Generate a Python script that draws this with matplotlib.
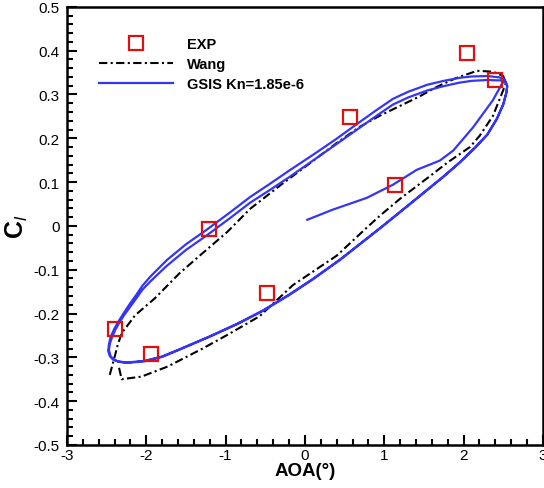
"""Cl vs AOA hysteresis loop: EXP / Wang / GSIS"""

import matplotlib
matplotlib.use("Agg")
import matplotlib.pyplot as plt
from matplotlib.ticker import MultipleLocator, FuncFormatter

plt.rcParams["font.family"] = ["Liberation Sans", "DejaVu Sans"]
plt.rcParams["axes.unicode_minus"] = False
plt.rcParams["mathtext.fontset"] = "custom"
plt.rcParams["mathtext.bf"] = "Liberation Sans:bold"
plt.rcParams["mathtext.it"] = "Liberation Sans:italic"
plt.rcParams["mathtext.rm"] = "Liberation Sans"

# ── data ────────────────────────────────────────────────────
exp_aoa = [2.04, 2.40, 0.57, 1.13, -1.21, -0.48, -2.40, -1.94]
exp_cl = [0.395, 0.333, 0.249, 0.094, -0.006, -0.153, -0.236, -0.292]

wang_aoa = [-2.46, -2.40, -2.36, -2.31, -2.14, -1.89, -1.58, -1.32, -0.98,
            -0.69, -0.30, 0.10, 0.40, 0.69, 0.95, 1.20, 1.45, 1.66, 1.90,
            2.17, 2.37, 2.50, 2.53, 2.50, 2.37, 2.20, 2.08, 1.80, 1.55,
            1.20, 0.95, 0.78, 0.40, -0.15, -0.57, -0.95, -1.29, -1.73,
            -2.06, -2.31, -2.35]
wang_cl = [-0.340, -0.300, -0.272, -0.245, -0.204, -0.165, -0.108, -0.067,
           -0.014, 0.039, 0.094, 0.148, 0.189, 0.226, 0.252, 0.274, 0.296,
           0.317, 0.337, 0.354, 0.352, 0.342, 0.325, 0.310, 0.251, 0.205,
           0.180, 0.145, 0.110, 0.062, 0.024, -0.004, -0.068, -0.135, -0.206,
           -0.246, -0.280, -0.321, -0.344, -0.350, -0.318]

gsis_aoa = [
    # start-up transient
    0.03, 0.35, 0.78, 1.11, 1.41, 1.70, 1.87, 2.12, 2.37, 2.48,
    # cycle 1
    2.52, 2.45, 2.30, 2.10, 1.95, 1.75, 1.54, 1.30, 1.11, 0.90, 0.69, 0.40,
    0.10, -0.20, -0.45, -0.69, -0.95, -1.24, -1.50, -1.74, -1.95, -2.05,
    -2.12, -2.20, -2.28, -2.35, -2.40, -2.45, -2.47, -2.48, -2.46, -2.42,
    -2.36, -2.28, -2.20, -2.02, -1.80, -1.60, -1.20, -0.85, -0.53, -0.20,
    0.10, 0.44, 0.70, 0.98, 1.30, 1.55, 1.74, 1.95, 2.15, 2.30, 2.42, 2.50,
    2.54, 2.55, 2.52,
    # cycle 2
    2.45, 2.30, 2.10, 1.95, 1.75, 1.54, 1.30, 1.11, 0.90, 0.69, 0.40, 0.10,
    -0.20, -0.45, -0.69, -0.95, -1.24, -1.50, -1.74, -1.95, -2.05, -2.12,
    -2.20, -2.28, -2.34, -2.39, -2.43, -2.46, -2.47, -2.45, -2.41, -2.35,
    -2.28, -2.20, -2.02, -1.80, -1.60, -1.20, -0.85, -0.53, -0.20, 0.10,
    0.44, 0.70, 0.98, 1.30, 1.55, 1.74, 1.95, 2.15, 2.30, 2.42, 2.50, 2.54,
    2.55, 2.52,
]
gsis_cl = [
    0.014, 0.037, 0.064, 0.094, 0.128, 0.149, 0.172, 0.225, 0.287, 0.323,
    0.334, 0.339, 0.342, 0.341, 0.338, 0.331, 0.322, 0.306, 0.290, 0.264,
    0.237, 0.199, 0.162, 0.126, 0.095, 0.066, 0.030, -0.009, -0.042, -0.078,
    -0.116, -0.137, -0.156, -0.176, -0.198, -0.218, -0.234, -0.254, -0.270,
    -0.285, -0.297, -0.305, -0.309, -0.311, -0.311, -0.308, -0.298, -0.283,
    -0.252, -0.223, -0.193, -0.157, -0.121, -0.077, -0.040, 0.000, 0.047,
    0.084, 0.112, 0.145, 0.180, 0.209, 0.245, 0.278, 0.305, 0.320, 0.333,
    0.332, 0.333, 0.331, 0.327, 0.319, 0.309, 0.293, 0.277, 0.251, 0.224,
    0.187, 0.149, 0.111, 0.081, 0.053, 0.017, -0.022, -0.055, -0.091,
    -0.127, -0.146, -0.164, -0.184, -0.204, -0.221, -0.237, -0.254, -0.269,
    -0.284, -0.297, -0.305, -0.310, -0.312, -0.312, -0.309, -0.299, -0.284,
    -0.253, -0.224, -0.194, -0.158, -0.122, -0.078, -0.041, -0.001, 0.046,
    0.083, 0.111, 0.144, 0.179, 0.208, 0.244, 0.277, 0.304, 0.319, 0.331,
]

BLUE = "#3535f5"
RED = "#dd1111"


def fmt_tick(v, pos):
    if abs(v) < 1e-9:
        return "0"
    return f"{v:g}"


fig = plt.figure(figsize=(5.44, 4.89), dpi=100)
ax = fig.add_axes([0.123, 0.088, 0.875, 0.896])

ax.plot(exp_aoa, exp_cl, ls="none", marker="s", ms=9.5, mfc="none",
        mec=RED, mew=1.6, label="EXP", zorder=4)
ax.plot(wang_aoa, wang_cl, color="black", lw=1.5,
        ls=(0, (4, 1.6, 1, 1.6)), label="Wang", zorder=2)
ax.plot(gsis_aoa, gsis_cl, color=BLUE, lw=1.6, label="GSIS Kn=1.85e-6",
        zorder=3)

ax.set_xlim(-3, 3)
ax.set_ylim(-0.5, 0.5)
ax.xaxis.set_major_locator(MultipleLocator(1))
ax.xaxis.set_minor_locator(MultipleLocator(0.2))
ax.yaxis.set_major_locator(MultipleLocator(0.1))
ax.yaxis.set_minor_locator(MultipleLocator(0.02))
ax.xaxis.set_major_formatter(FuncFormatter(fmt_tick))
ax.yaxis.set_major_formatter(FuncFormatter(fmt_tick))
ax.tick_params(which="both", direction="in", top=False, right=False,
               labelsize=11, width=1.5)
ax.tick_params(which="major", length=7)
ax.tick_params(which="minor", length=4)
ax.tick_params(axis="x", pad=2)
ax.tick_params(axis="y", pad=5)
for s in ax.spines.values():
    s.set_linewidth(1.8)

ax.set_xlabel("AOA(°)", fontsize=13.5, fontweight="bold", labelpad=0)
ax.set_ylabel(r"$\mathbf{C}_{\mathit{l}}$", fontsize=18)
ax.yaxis.set_label_coords(-0.078, 0.5)

leg = ax.legend(loc="upper left", bbox_to_anchor=(0.067, 0.93),
                frameon=False, handlelength=5.1, handletextpad=0.95,
                labelspacing=0.4, borderpad=0, borderaxespad=0,
                prop={"weight": "bold", "size": 10.5})

fig.savefig("out.png", dpi=100)
